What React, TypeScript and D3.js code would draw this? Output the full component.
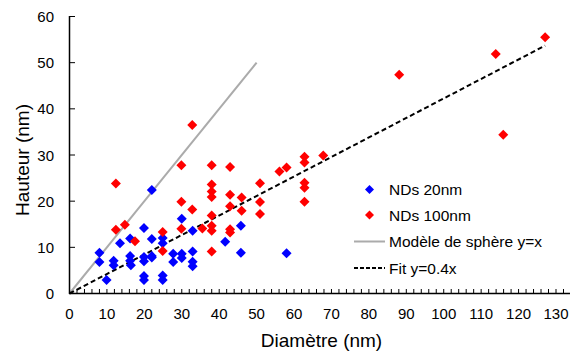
import React from "react";
import * as d3 from "d3";

const blueX = [8.0, 8.0, 9.9, 11.8, 11.8, 13.5, 16.2, 16.2, 16.2, 16.4, 19.9, 19.9, 19.9, 19.9, 19.9, 22.0, 22.0, 22.0, 22.0, 24.9, 24.9, 24.9, 24.9, 27.7, 27.7, 30.0, 30.0, 30.0, 32.9, 32.9, 32.9, 32.9, 41.6, 45.8, 45.8, 58.0];
const blueY = [8.8, 6.8, 2.9, 7.1, 6.1, 10.9, 11.9, 8.1, 7.1, 6.1, 14.2, 7.9, 7.0, 3.8, 2.9, 22.4, 11.8, 8.1, 7.8, 12.0, 10.9, 3.9, 2.9, 8.6, 6.8, 16.2, 8.6, 7.7, 13.6, 9.1, 6.9, 5.9, 11.2, 14.7, 8.8, 8.7];

const redX = [12.4, 12.4, 14.8, 17.5, 24.9, 24.9, 29.9, 29.9, 29.9, 32.8, 32.8, 35.5, 38.0, 38.0, 38.0, 38.0, 38.0, 38.0, 38.0, 38.0, 42.9, 42.9, 42.9, 42.9, 42.9, 46.0, 46.0, 50.9, 50.9, 50.9, 56.1, 58.0, 62.8, 62.8, 62.8, 62.8, 62.8, 67.8, 88.1, 113.9, 115.9, 127.1];
const redY = [23.8, 13.8, 14.9, 11.3, 13.3, 9.2, 27.8, 19.9, 14.0, 36.5, 18.2, 14.1, 27.8, 23.6, 22.1, 20.9, 16.9, 14.7, 13.6, 9.1, 27.4, 21.4, 18.9, 13.9, 13.2, 20.8, 17.9, 23.9, 19.8, 17.2, 26.4, 27.3, 29.6, 28.4, 24.0, 22.9, 19.9, 29.9, 47.4, 51.9, 34.4, 55.5];

const sphereLine = [[0, 0], [50, 50]];
const fitLine = [[0, 0], [127.1, 53.7]];

const xTicks = [0, 10, 20, 30, 40, 50, 60, 70, 80, 90, 100, 110, 120, 130];
const yTicks = [0, 10, 20, 30, 40, 50, 60];

const legendItems = ["NDs 20nm", "NDs 100nm", "Modèle de sphère y=x", "Fit y=0.4x"];

const W = 570;
const H = 351;
const FONT = "'Liberation Sans', Arial, sans-serif";

function diamond(cx: number, cy: number, r: number) {
  return `M${cx},${cy - r}L${cx + r},${cy}L${cx},${cy + r}L${cx - r},${cy}Z`;
}

export default function App() {
  const x = d3.scaleLinear().domain([0, 130]).range([69.5, 556]);
  const y = d3.scaleLinear().domain([0, 60]).range([293.5, 16.5]);
  const line = d3.line<number[]>().x((d) => x(d[0])).y((d) => y(d[1]));

  const minorTicks = d3.range(0, 134, 2);
  const r = 5;

  return (
    <svg width={W} height={H} style={{ position: "absolute", left: 0, top: 0, background: "#fff" }}>
      <rect width={W} height={H} fill="#fff" />
      {/* lines */}
      <path d={line(sphereLine as any) || ""} stroke="#ababab" strokeWidth={2} fill="none" />
      <path d={line(fitLine as any) || ""} stroke="#000" strokeWidth={2} strokeDasharray="5,3" fill="none" />
      {/* points */}
      {blueX.map((v, i) => (
        <path key={"b" + i} d={diamond(x(v), y(blueY[i]), r)} fill="#0000ff" />
      ))}
      {redX.map((v, i) => (
        <path key={"r" + i} d={diamond(x(v), y(redY[i]), r)} fill="#ff0000" />
      ))}
      {/* axes */}
      <line x1={69.5} x2={69.5} y1={16} y2={294} stroke="#000" strokeWidth={1.5} />
      <line x1={69} x2={W} y1={293.5} y2={293.5} stroke="#000" strokeWidth={1.5} />
      {minorTicks.map((t) => (
        <line key={"mt" + t} x1={x(t)} x2={x(t)} y1={293.5} y2={289} stroke="#000" strokeWidth={1} />
      ))}
      {yTicks.map((t) => (
        <line key={"yt" + t} x1={69.5} x2={75} y1={y(t)} y2={y(t)} stroke="#000" strokeWidth={1} />
      ))}
      {xTicks.map((t) => (
        <text key={"xl" + t} x={x(t)} y={319} textAnchor="middle" fontSize={15} fontFamily={FONT} fill="#000">
          {t}
        </text>
      ))}
      {yTicks.map((t) => (
        <text key={"yl" + t} x={54} y={y(t) + 5.5} textAnchor="end" fontSize={15} fontFamily={FONT} fill="#000">
          {t}
        </text>
      ))}
      <text x={321.5} y={347} textAnchor="middle" fontSize={19} fontFamily={FONT} fill="#000">
        Diamètre (nm)
      </text>
      <text
        transform={`translate(29,160) rotate(-90)`}
        textAnchor="middle"
        fontSize={19}
        fontFamily={FONT}
        fill="#000"
      >
        Hauteur (nm)
      </text>
      {/* legend */}
      <path d={diamond(369.5, 189.5, 4.5)} fill="#0000ff" />
      <path d={diamond(369.5, 215, 4.5)} fill="#ff0000" />
      <line x1={354} x2={385} y1={241.5} y2={241.5} stroke="#ababab" strokeWidth={2} />
      <line x1={354} x2={385} y1={268} y2={268} stroke="#000" strokeWidth={2} strokeDasharray="4,2" />
      {legendItems.map((s, i) => (
        <text key={"lg" + i} x={389} y={[195, 220.5, 247, 273.5][i]} fontSize={15.5} fontFamily={FONT} fill="#000">
          {s}
        </text>
      ))}
    </svg>
  );
}
